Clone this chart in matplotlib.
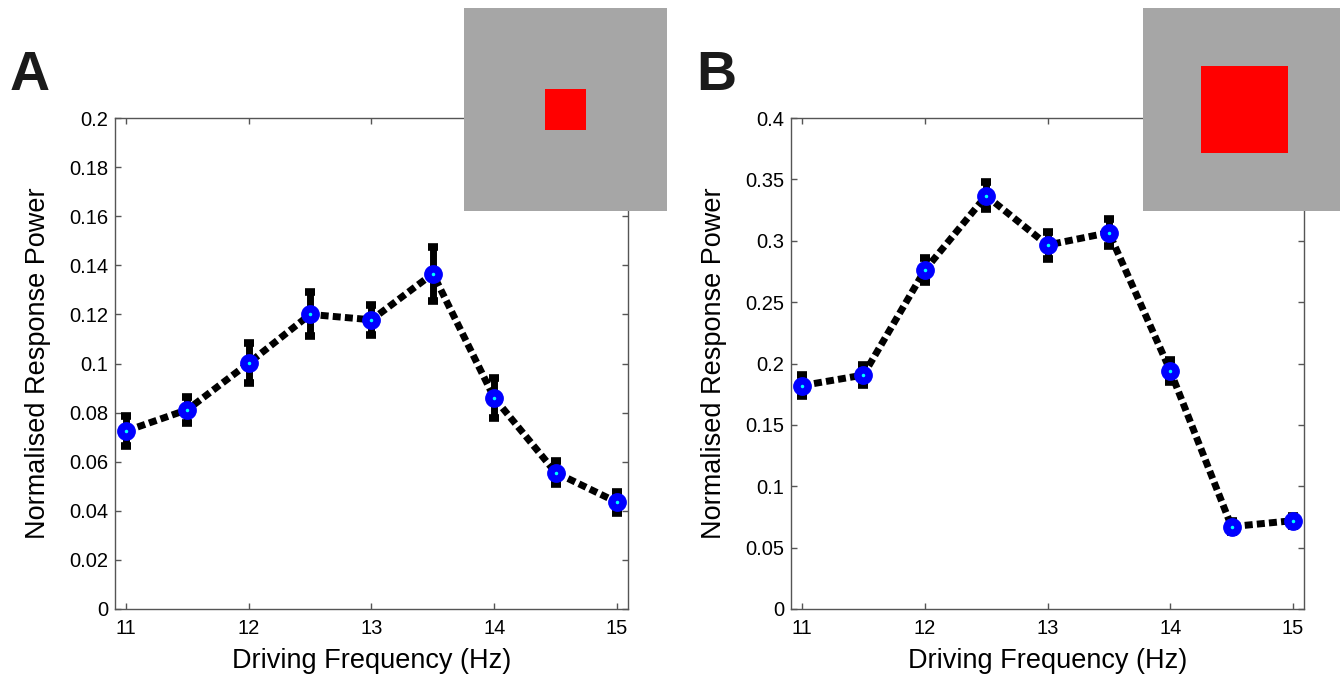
import matplotlib
matplotlib.use('Agg')
import matplotlib.pyplot as plt
from matplotlib.patches import Rectangle

plt.rcParams['font.family'] = ['Liberation Sans', 'DejaVu Sans']

# driving frequencies (Hz)
freqs = [11, 11.5, 12, 12.5, 13, 13.5, 14, 14.5, 15]

# panel A: small stimulus
power_a = [0.0725, 0.0812, 0.1002, 0.1200, 0.1178, 0.1366, 0.0860, 0.0556, 0.0435]
err_a = [0.0060, 0.0053, 0.0080, 0.0090, 0.0060, 0.0110, 0.0080, 0.0048, 0.0043]

# panel B: large stimulus
power_b = [0.1820, 0.1906, 0.2760, 0.3367, 0.2965, 0.3066, 0.1942, 0.0671, 0.0720]
err_b = [0.0085, 0.0078, 0.0100, 0.0110, 0.0110, 0.0110, 0.0090, 0.0045, 0.0040]

yticks_a = [0, 0.02, 0.04, 0.06, 0.08, 0.1, 0.12, 0.14, 0.16, 0.18, 0.2]
yticks_b = [0, 0.05, 0.1, 0.15, 0.2, 0.25, 0.3, 0.35, 0.4]
xticks = [11, 12, 13, 14, 15]

spine_col = '#555555'
W, H = 1340, 677

fig = plt.figure(figsize=(13.4, 6.77), dpi=100)


def draw_panel(left, power, err, yticks, ylim, letter, letter_x, red_size, inset_left):
    ax = fig.add_axes([left / W, 1 - 609 / H, 513 / W, 491 / H])
    ax.errorbar(freqs, power, yerr=err, color='black', lw=5, capsize=3.6,
                capthick=5.5, dashes=(1.15, 0.6), dash_capstyle='butt', zorder=2)
    ax.plot(freqs, power, 'o', color='blue', ms=12.5, mec='blue', mew=1, zorder=3)
    ax.plot(freqs, power, '.', color='cyan', ms=3, zorder=4)
    ax.set_xlim(10.91, 15.09)
    ax.set_ylim(*ylim)
    ax.set_xticks(xticks)
    ax.set_xticklabels([str(t) for t in xticks])
    ax.set_yticks(yticks)
    ax.set_yticklabels(['%g' % t for t in yticks])
    ax.tick_params(direction='in', top=True, right=True, length=4.5, width=1,
                   color=spine_col, labelsize=14.5)
    ax.tick_params(axis='x', pad=7)
    ax.tick_params(axis='y', pad=5)
    for s in ax.spines.values():
        s.set_color(spine_col)
        s.set_linewidth(1)
    ax.set_xlabel('Driving Frequency (Hz)', fontsize=19.5)
    ax.set_ylabel('Normalised Response Power', fontsize=19.5)
    ax.xaxis.set_label_coords(0.5, -0.08)
    ax.yaxis.set_label_coords(-0.124, 0.5)

    fig.text(letter_x / W, 1 - 90 / H, letter, fontsize=40, fontweight='bold',
             color='#1a1a1a', va='baseline', ha='left')

    ins = fig.add_axes([inset_left / W, 1 - 211 / H, 203 / W, 203 / H])
    ins.set_facecolor('#a6a6a6')
    ins.set_xlim(0, 1)
    ins.set_ylim(0, 1)
    ins.add_patch(Rectangle((0.5 - red_size / 2, 0.5 - red_size / 2), red_size, red_size,
                            color='red', lw=0))
    ins.set_xticks([])
    ins.set_yticks([])
    for s in ins.spines.values():
        s.set_visible(False)
    return ax


draw_panel(115, power_a, err_a, yticks_a, (0, 0.2), 'A', 10, 0.2, 464)
draw_panel(791, power_b, err_b, yticks_b, (0, 0.4), 'B', 696, 0.43, 1143)

fig.savefig('out.png', dpi=100)
